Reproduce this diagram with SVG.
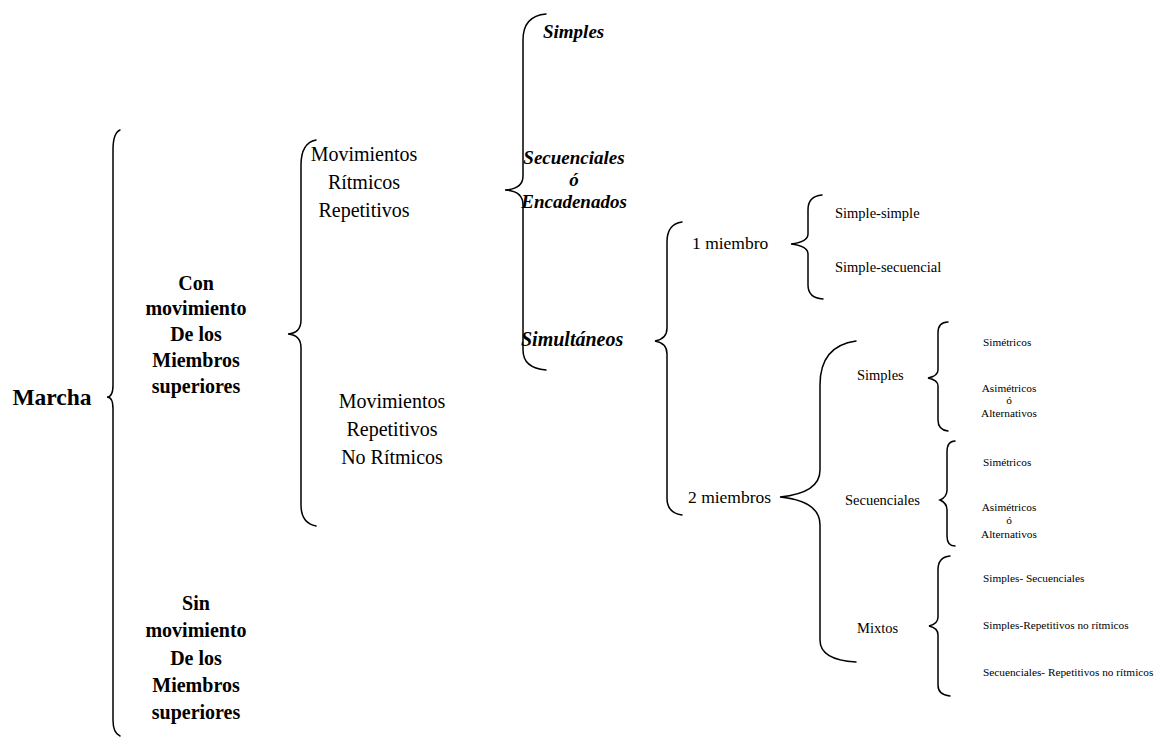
<svg xmlns="http://www.w3.org/2000/svg" width="1176" height="741" viewBox="0 0 1176 741">
<style>
.br{fill:none;stroke:#000;stroke-width:1.5;stroke-linecap:round}
text{font-family:"Liberation Serif","Times New Roman",serif;fill:#000;text-anchor:middle}
.b{font-weight:bold;font-size:20px}
.bi{font-weight:bold;font-style:italic;font-size:19px}
.r{font-size:20px}
.m{font-size:17.5px}
.s{font-size:14.5px}
.xs{font-size:11.3px}
.l{text-anchor:start}
</style>
<rect width="1176" height="741" fill="#fff"/>
<g id="connectors">
<path class="br" d="M120,130 Q113,133 113,150 L113,385 Q113,397 107,397 Q113,397 113,409 L113,720 Q113,733 120,736"/>
<path class="br" d="M316,140 Q301,143 301,165 L301,320 Q301,333 288,334 Q301,335 301,348 L301,505 Q301,523 316,526"/>
<path class="br" d="M546,14 Q523,16 523,40 L523,176 Q523,189 505,190 Q523,191 523,205 L523,350 Q523,368 546,370"/>
<path class="br" d="M682,222 Q667,224 667,242 L667,328 Q667,339 655,341 Q667,343 667,354 L667,498 Q667,513 682,515"/>
<path class="br" d="M822,195 Q808,196 808,210 L808,234 Q808,242 791,244 Q808,246 808,254 L808,285 Q808,298 823,299"/>
<path class="br" d="M856,341 Q820,346 820,385 L820,470 Q820,493 780,497 Q820,501 820,525 L820,640 Q820,660 856,662"/>
<path class="br" d="M948,322 Q938,322 938,333 L938,370 Q938,376 928,378 Q938,380 938,386 L938,420 Q938,430 948,431"/>
<path class="br" d="M955,441 Q947,441 947,452 L947,490 Q947,497 940,500 Q947,503 947,510 L947,536 Q947,546 955,546"/>
<path class="br" d="M950,556 Q938,557 938,570 L938,617 Q938,624 929,626 Q938,628 938,635 L938,685 Q938,695 950,696"/>
</g>
<g id="n-marcha"><text class="b" x="52" y="405" style="font-size:23.5px">Marcha</text></g>
<g id="n-con"><text class="b" x="196" y="290">Con</text><text class="b" x="196" y="315">movimiento</text><text class="b" x="196" y="341">De los</text><text class="b" x="196" y="367">Miembros</text><text class="b" x="196" y="393">superiores</text></g>
<g id="n-sin"><text class="b" x="196" y="610">Sin</text><text class="b" x="196" y="637">movimiento</text><text class="b" x="196" y="665">De los</text><text class="b" x="196" y="692">Miembros</text><text class="b" x="196" y="719">superiores</text></g>
<g id="n-mrr"><text class="r" x="364" y="161">Movimientos</text><text class="r" x="364" y="189">Rítmicos</text><text class="r" x="364" y="217">Repetitivos</text></g>
<g id="n-mrnr"><text class="r" x="392" y="408">Movimientos</text><text class="r" x="392" y="436">Repetitivos</text><text class="r" x="392" y="464">No Rítmicos</text></g>
<g id="n-simples"><text class="bi l" x="543" y="38">Simples</text></g>
<g id="n-secuenciales"><text class="bi" x="574" y="164">Secuenciales</text><text class="bi" x="574" y="186">ó</text><text class="bi" x="574" y="208">Encadenados</text></g>
<g id="n-simultaneos"><text class="bi l" x="521" y="346" style="font-size:20px">Simultáneos</text></g>
<g id="n-1miembro"><text class="m l" x="692" y="249">1 miembro</text></g>
<g id="n-2miembros"><text class="m l" x="688" y="503">2 miembros</text></g>
<g id="n-ss"><text class="s l" x="835" y="218">Simple-simple</text></g>
<g id="n-ssec"><text class="s l" x="835" y="272">Simple-secuencial</text></g>
<g id="n-simples2"><text class="s l" x="857" y="380">Simples</text></g>
<g id="n-secuenciales2"><text class="s l" x="845" y="505">Secuenciales</text></g>
<g id="n-mixtos"><text class="s l" x="857" y="633">Mixtos</text></g>
<g id="n-sim1"><text class="xs l" x="983" y="346">Simétricos</text></g>
<g id="n-asim1"><text class="xs" x="1009" y="392">Asimétricos</text><text class="xs" x="1009" y="404">ó</text><text class="xs" x="1009" y="417">Alternativos</text></g>
<g id="n-sim2"><text class="xs l" x="983" y="466">Simétricos</text></g>
<g id="n-asim2"><text class="xs" x="1009" y="511">Asimétricos</text><text class="xs" x="1009" y="524">ó</text><text class="xs" x="1009" y="538">Alternativos</text></g>
<g id="n-mx1"><text class="xs l" x="983" y="582">Simples- Secuenciales</text></g>
<g id="n-mx2"><text class="xs l" x="983" y="629">Simples-Repetitivos no rítmicos</text></g>
<g id="n-mx3"><text class="xs l" x="983" y="676">Secuenciales- Repetitivos no rítmicos</text></g>
</svg>
